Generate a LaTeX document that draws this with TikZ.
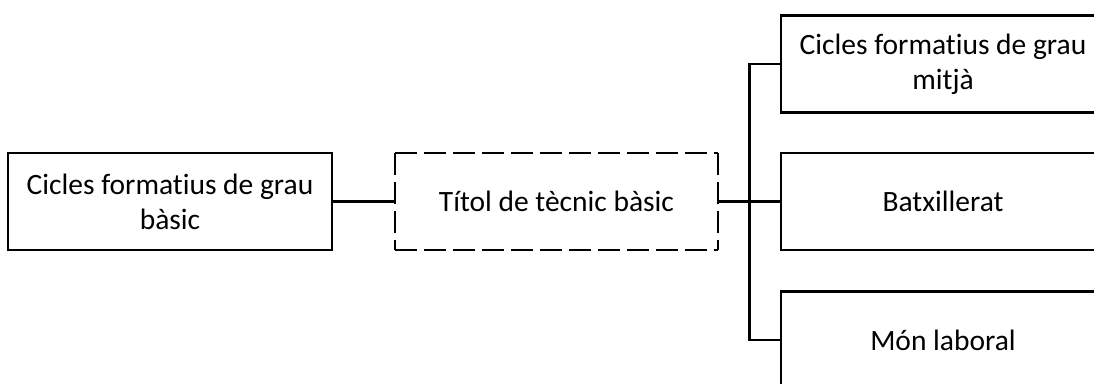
\documentclass[tikz,border=0pt]{standalone}
\usepackage{fontspec}
\setmainfont{Carlito}[Ligatures=NoCommon]
\begin{document}
\begin{tikzpicture}[x=1pt,y=-1pt,
  label font/.style={font=\fontsize{29.5}{35}\selectfont},
  box/.style={draw, line width=2.5pt, rectangle, minimum width=324pt, minimum height=97pt,
    align=center, label font, inner sep=0pt},
  plainbox/.style={rectangle, minimum width=323pt, minimum height=97pt,
    align=center, label font, inner sep=0pt},
  dashline/.style={line width=2.5pt, dash pattern=on 22pt off 7pt},
  link/.style={line width=2.5pt}]
\useasboundingbox (0,0) rectangle (1094,383);
\begin{scope}
\clip (0,0) rectangle (1094,383);
% source and qualification
\node[box] (basic) at (170,201.5) {Cicles formatius de grau\\bàsic};
\node[plainbox] (titol) at (556.5,201.5) {Títol de tècnic bàsic};
% dashed outline, every side starting with a dash at its corner
\draw[dashline] (titol.north west) -- (titol.north east);
\draw[dashline] (titol.north east) -- (titol.south east);
\draw[dashline] (titol.south west) -- (titol.south east);
\draw[dashline] (titol.north west) -- (titol.south west);
% destinations
\node[box] (mitja) at (943,64) {Cicles formatius de grau\\mitjà};
\node[box] (batx) at (943,201.5) {Batxillerat};
\node[box] (laboral) at (943,340) {Món laboral};
% connectors
\coordinate (bus) at (749.5,201.5);
\draw[link] (basic.east) -- (titol.west);
\draw[link] (titol.east) -- (bus) -- (batx.west);
\draw[link] (mitja.west) -| (bus) |- (laboral.west);
\end{scope}
\end{tikzpicture}
\end{document}
